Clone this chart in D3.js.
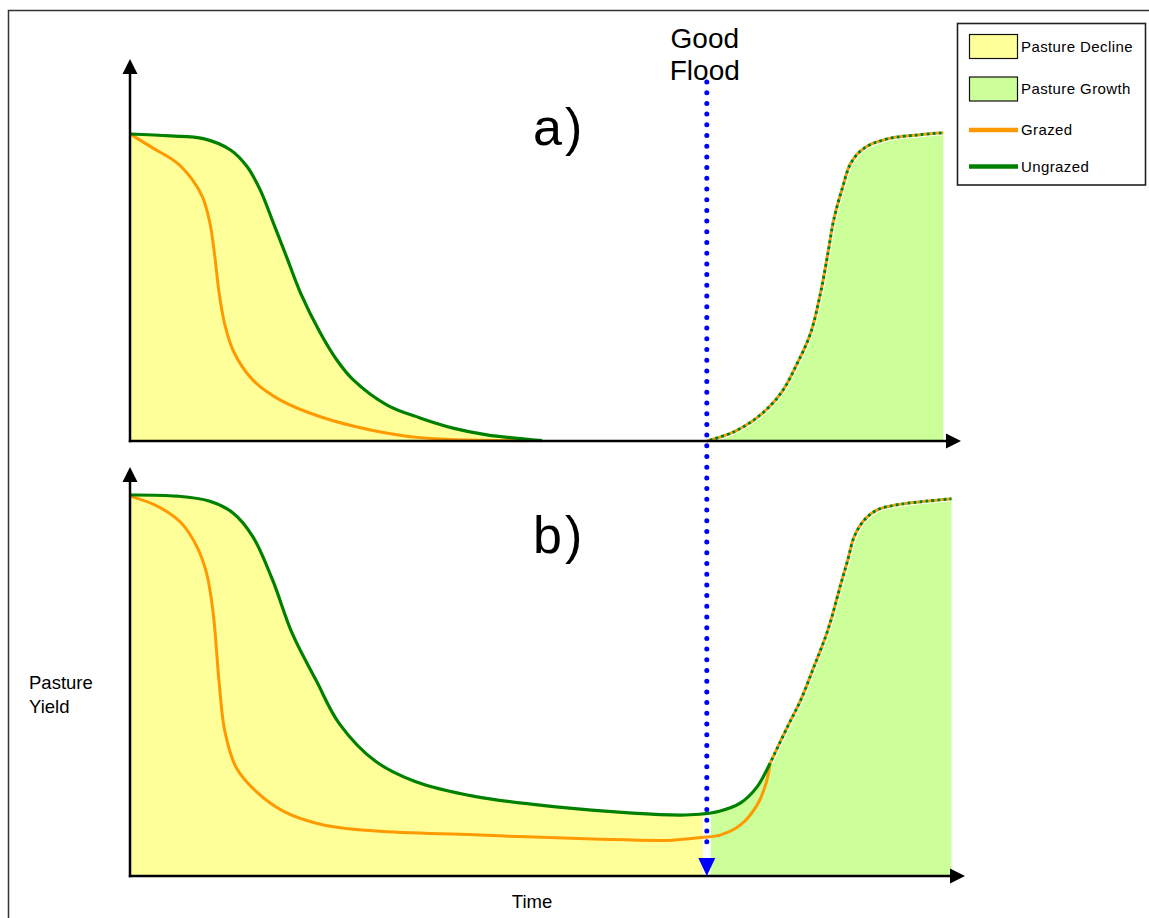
<!DOCTYPE html>
<html><head><meta charset="utf-8">
<script src="https://cdn.jsdelivr.net/npm/d3@7"></script>
<style>
html,body{margin:0;padding:0;background:#fff;}
svg{display:block;font-family:"Liberation Sans",Arial,sans-serif;}
</style></head>
<body>
<svg id="chart" width="1149" height="918"></svg>
<script>
// ---------- DATA (time 0-100, pasture yield 0-100) ----------
const floodTime = 70;
const panelLabels = ["a)", "b)"];
const legendItems = ["Pasture Decline", "Pasture Growth", "Grazed", "Ungrazed"];
const floodLabel = ["Good", "Flood"];
const xAxisLabel = "Time";
const yAxisLabel = ["Pasture", "Yield"];

// Panel a) decline curves
const aUngrazed = [[0,100],[4.9,99.4],[8.9,98.5],[12.2,94.8],[14.2,89.4],[15.8,81.8],[17.4,71.0],[19.0,60.0],[20.7,48.2],[23.1,35.2],[25.1,26.4],[27.1,19.9],[31.2,11.7],[35.2,7.5],[39.2,4.2],[43.3,2.0],[50.0,0.1]];
const aGrazed = [[0,100],[2.8,95.4],[5.7,90.6],[7.6,85.0],[8.8,79.5],[9.7,71.0],[10.3,60.0],[10.8,48.5],[11.5,38.0],[12.6,29.0],[14.9,19.9],[18.2,13.4],[23.1,7.9],[29.2,3.6],[35.2,1.1],[48.2,0.1]];
// Panel a) recovery after flood (both treatments)
const aRecovery = [[70,0],[73.3,3.0],[76.5,8.5],[79.0,15.6],[81.0,25.4],[82.6,35.2],[83.8,48.2],[84.7,61.2],[85.4,72.0],[86.5,82.8],[87.5,90.6],[89.1,95.4],[91.9,98.4],[95.6,99.7],[98.7,100.4]];

// Panel b) decline curves
const bUngrazed = [[0,100],[5.7,99.7],[9.6,98.4],[12.5,95.3],[14.9,89.1],[17.3,77.7],[19.7,63.6],[22.6,51.3],[25.4,40.0],[29.8,30.1],[34.6,24.8],[41.8,20.9],[51.4,18.2],[61.0,16.5],[66.7,16.0],[69.1,16.2],[71.5,17.0],[74.1,19.2],[76.1,23.4],[77.7,29.7]];
const bGrazed = [[0,99.7],[3.3,97.1],[6.2,92.7],[8.1,86.5],[9.3,79.4],[10.1,68.9],[10.8,51.3],[11.5,38.1],[12.9,28.4],[15.3,22.2],[18.7,16.9],[23.5,13.4],[29.8,11.8],[41.8,10.8],[56.2,9.7],[65.8,9.4],[69.3,10.1],[71.7,10.8],[74.1,13.4],[76.1,18.6],[77.2,24.4],[77.7,29.7]];
// Panel b) recovery after flood (both treatments)
const bRecovery = [[77.7,29.7],[79.8,39.2],[81.4,46.2],[83.0,54.9],[84.7,64.6],[86.3,76.9],[87.1,82.9],[87.9,89.1],[89.1,93.4],[90.7,96.1],[93.6,97.6],[96.8,98.4],[99.7,99.0]];

// ---------- STYLE ----------
const C = {
  yellow: "#ffff99", lgreen: "#ccff99", orange: "#ff9900", green: "#008000",
  blue: "#0000ff", axis: "#000"
};
const curve = d3.curveCatmullRom.alpha(0.5);

const svg = d3.select("#chart");

// outer frame
svg.append("rect").attr("x", 8.5).attr("y", 10.5).attr("width", 1160).attr("height", 930)
  .attr("fill", "none").attr("stroke", "#333").attr("stroke-width", 1.5);

// scales
const x = d3.scaleLinear().domain([0, 100]).range([130, 954]);
const panels = [
  { y: d3.scaleLinear().domain([0, 100]).range([441, 134]), yTop: 59, xEnd: 961,
    ungrazed: aUngrazed, grazed: aGrazed, recovery: aRecovery, label: panelLabels[0], labelY: 145 },
  { y: d3.scaleLinear().domain([0, 100]).range([876, 495]), yTop: 467, xEnd: 965,
    ungrazed: bUngrazed, grazed: bGrazed, recovery: bRecovery, label: panelLabels[1], labelY: 553 }
];

const defs = svg.append("defs");

panels.forEach((p, i) => {
  const g = svg.append("g");
  const y = p.y;
  const line = d3.line().x(d => x(d[0])).y(d => y(d[1])).curve(curve);
  const area = d3.area().x(d => x(d[0])).y0(y(0)).y1(d => y(d[1])).curve(curve);

  // clip paths: before / after flood
  const cpL = "clipL" + i, cpR = "clipR" + i;
  defs.append("clipPath").attr("id", cpL).append("rect")
    .attr("x", x(0)).attr("y", 0).attr("width", x(floodTime) - 4 - x(0)).attr("height", 918);
  defs.append("clipPath").attr("id", cpR).append("rect")
    .attr("x", x(floodTime) + (i === 1 ? 4 : 0)).attr("y", 0).attr("width", 400).attr("height", 918);

  if (i === 0) {
    g.append("path").attr("d", area(p.ungrazed)).attr("fill", C.yellow);
    g.append("path").attr("d", area(p.recovery)).attr("fill", C.lgreen);
  } else {
    const upper = p.ungrazed.concat(p.recovery.slice(1));
    g.append("path").attr("d", area(upper)).attr("fill", C.yellow).attr("clip-path", `url(#${cpL})`);
    g.append("path").attr("d", area(upper)).attr("fill", C.lgreen).attr("clip-path", `url(#${cpR})`);
  }

  // solid decline lines
  g.append("path").attr("d", line(p.grazed)).attr("fill", "none")
    .attr("stroke", C.orange).attr("stroke-width", 3);
  g.append("path").attr("d", line(p.ungrazed)).attr("fill", "none")
    .attr("stroke", C.green).attr("stroke-width", 3.2);

  // dotted recovery line (orange & green alternating)
  g.append("path").attr("d", line(p.recovery)).attr("fill", "none")
    .attr("stroke", "#fff").attr("stroke-width", 5);
  g.append("path").attr("d", line(p.recovery)).attr("fill", "none")
    .attr("stroke", C.orange).attr("stroke-width", 3).attr("stroke-dasharray", "3,3");
  g.append("path").attr("d", line(p.recovery)).attr("fill", "none")
    .attr("stroke", C.green).attr("stroke-width", 3).attr("stroke-dasharray", "3,3").attr("stroke-dashoffset", 3);

  // axes with arrowheads
  const ax = x(0), ay = y(0);
  g.append("line").attr("x1", ax).attr("y1", ay + 1.2).attr("x2", ax).attr("y2", p.yTop + 14)
    .attr("stroke", C.axis).attr("stroke-width", 2.5);
  g.append("path").attr("d", `M${ax - 7.5},${p.yTop + 15}L${ax},${p.yTop}L${ax + 7.5},${p.yTop + 15}Z`).attr("fill", C.axis);
  g.append("line").attr("x1", ax - 1.2).attr("y1", ay).attr("x2", p.xEnd - 14).attr("y2", ay)
    .attr("stroke", C.axis).attr("stroke-width", 2.5);
  g.append("path").attr("d", `M${p.xEnd - 15},${ay - 7.5}L${p.xEnd},${ay}L${p.xEnd - 15},${ay + 7.5}Z`).attr("fill", C.axis);

  // panel label
  g.append("text").attr("x", 533).attr("y", p.labelY).attr("font-size", 52)
    .attr("letter-spacing", 3).attr("fill", "#000").text(p.label);
});

// flood line
const fx = x(floodTime);
svg.append("line").attr("x1", fx).attr("y1", 82).attr("x2", fx).attr("y2", 852)
  .attr("stroke", C.blue).attr("stroke-width", 5).attr("stroke-linecap", "round")
  .attr("stroke-dasharray", "0,10.7");
const yb0 = panels[1].y(0);
svg.append("path").attr("d", `M${fx - 8.5},${yb0 - 18}L${fx + 8.5},${yb0 - 18}L${fx},${yb0}Z`).attr("fill", C.blue);

// flood label
floodLabel.forEach((t, k) => {
  svg.append("text").attr("x", fx - 2).attr("y", 47.5 + k * 32.5).attr("text-anchor", "middle")
    .attr("font-size", 28).attr("fill", "#000").text(t);
});

// axis titles
svg.append("text").attr("x", 532).attr("y", 908).attr("text-anchor", "middle")
  .attr("font-size", 18.5).attr("fill", "#000").text(xAxisLabel);
yAxisLabel.forEach((t, k) => {
  svg.append("text").attr("x", 29).attr("y", 689 + k * 23.5).attr("font-size", 18.5)
    .attr("fill", "#000").text(t);
});

// legend
const lg = svg.append("g");
lg.append("rect").attr("x", 957.5).attr("y", 23.5).attr("width", 188).attr("height", 161.5)
  .attr("fill", "#fff").attr("stroke", "#222").attr("stroke-width", 1.6);
const rowY = [46.5, 89, 130, 166.5];
legendItems.forEach((t, k) => {
  const ry = rowY[k];
  if (k < 2) {
    lg.append("rect").attr("x", 969.5).attr("y", ry - 12).attr("width", 48).attr("height", 24)
      .attr("fill", k === 0 ? C.yellow : C.lgreen).attr("stroke", "#111").attr("stroke-width", 1.2);
  } else {
    lg.append("line").attr("x1", 969).attr("x2", 1018).attr("y1", ry).attr("y2", ry)
      .attr("stroke", k === 2 ? C.orange : C.green).attr("stroke-width", 4.5);
  }
  lg.append("text").attr("x", 1021).attr("y", ry + 5).attr("font-size", 15)
    .attr("letter-spacing", 0.4).attr("fill", "#000").text(t);
});
</script>
</body></html>
